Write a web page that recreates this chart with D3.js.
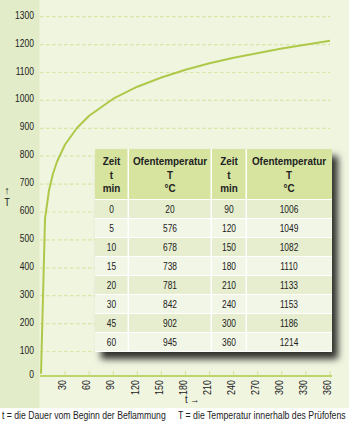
<!DOCTYPE html>
<html>
<head>
<meta charset="utf-8">
<script src="https://cdn.jsdelivr.net/npm/d3@7"></script>
<style>
  html, body { margin: 0; padding: 0; background: #ffffff; }
  svg { display: block; }
  text { font-family: 'Liberation Sans', Arial, sans-serif; fill: #222; }
</style>
</head>
<body>
<div id="chart"></div>
<script>
// ---- data ----
const times = [0, 5, 10, 15, 20, 30, 45, 60, 90, 120, 150, 180, 210, 240, 300, 360];
const temps = [20, 576, 678, 738, 781, 842, 902, 945, 1006, 1049, 1082, 1110, 1133, 1153, 1186, 1214];
const yTicks = [0, 100, 200, 300, 400, 500, 600, 700, 800, 900, 1000, 1100, 1200, 1300];
const xTicks = [30, 60, 90, 120, 150, 180, 210, 240, 270, 300, 330, 360];
const headerTime = ["Zeit", "t", "min"];
const headerTemp = ["Ofentemperatur", "T", "°C"];
const footLeft = "t = die Dauer vom Beginn der Beflammung";
const footRight = "T = die Temperatur innerhalb des Prüfofens";

// ---- layout ----
const W = 349, H = 426;
const svg = d3.select("#chart").append("svg").attr("width", W).attr("height", H);

const x = d3.scaleLinear().domain([0, 360]).range([41, 330]);
const y = d3.scaleLinear().domain([0, 1300]).range([379.4, 16.7]);
const axisY = 376;

// condensed text helper: places text at (px,py) with horizontal compression s
function ctext(parent, px, py, str, opts) {
  const o = Object.assign({ size: 10.5, s: 0.8, anchor: "start", weight: "normal", rot: 0, dy: null }, opts || {});
  const t = parent.append("text")
    .attr("transform", `translate(${px},${py})` + (o.rot ? ` rotate(${o.rot})` : "") + ` scale(${o.s},1)`)
    .attr("text-anchor", o.anchor).attr("font-size", o.size).attr("font-weight", o.weight)
    .text(str);
  if (o.dy) t.attr("dy", o.dy);
  return t;
}

// backgrounds
svg.append("rect").attr("x", 0).attr("y", 0).attr("width", W).attr("height", 408).attr("fill", "#f0f5e0");
svg.append("rect").attr("x", 0).attr("y", 0).attr("width", 39.5).attr("height", 408).attr("fill", "#e3ecc8");

// gridlines
svg.append("g").selectAll("line").data(yTicks.filter(d => d > 0)).join("line")
  .attr("x1", 40).attr("x2", 330)
  .attr("y1", d => y(d)).attr("y2", d => y(d))
  .attr("stroke", "#d8e5a4").attr("stroke-width", 1.2).attr("stroke-dasharray", "3.5,2.5");

// y tick labels
const gy = svg.append("g");
yTicks.forEach(d => ctext(gy, 34, Math.min(y(d), axisY) + 2, d, { anchor: "end", s: 0.81 }));

// x ticks
svg.append("g").selectAll("line").data(xTicks).join("line")
  .attr("x1", d => x(d)).attr("x2", d => x(d))
  .attr("y1", axisY - 5).attr("y2", axisY)
  .attr("stroke", "#d4e19a").attr("stroke-width", 1);

const gx = svg.append("g");
xTicks.forEach(d => ctext(gx, x(d) - 2.5, 380, d, { anchor: "end", rot: -90, s: 0.85, dy: "0.35em" }));

// axis line
svg.append("line").attr("x1", 40).attr("x2", 332).attr("y1", axisY).attr("y2", axisY)
  .attr("stroke", "#bcd56a").attr("stroke-width", 2);

// axis titles
ctext(svg, 7, 194, "↑", { anchor: "middle", size: 11, s: 1 });
ctext(svg, 7, 206, "T", { anchor: "middle", size: 11, s: 0.85 });
ctext(svg, 185, 403, "t →", { size: 11, s: 0.85 });

// curve
const line = d3.line().x((d, i) => x(times[i])).y(d => y(d)).curve(d3.curveLinear);
svg.append("path").datum(temps).attr("d", line)
  .attr("fill", "none").attr("stroke", "#aec94a").attr("stroke-width", 2)
  .attr("stroke-linejoin", "round");

// ---- table ----
const defs = svg.append("defs");
const f = defs.append("filter").attr("id", "shadow").attr("x", "-10%").attr("y", "-10%").attr("width", "130%").attr("height", "130%");
f.append("feDropShadow").attr("dx", 6).attr("dy", 7).attr("stdDeviation", 3.5)
  .attr("flood-color", "#000").attr("flood-opacity", 0.8);

const tx0 = 95, tx1 = 332, ty0 = 149, headH = 51, rowH = 19;
const colEdges = [95, 129, 212, 247, 332];
const nRows = 8;
const tableG = svg.append("g");
tableG.append("rect").attr("x", tx0).attr("y", ty0).attr("width", tx1 - tx0)
  .attr("height", headH + nRows * rowH).attr("fill", "#ffffff").attr("filter", "url(#shadow)");

// header cells
for (let c = 0; c < 4; c++) {
  tableG.append("rect").attr("x", colEdges[c]).attr("y", ty0)
    .attr("width", colEdges[c + 1] - colEdges[c] - (c < 3 ? 1.5 : 0)).attr("height", headH - 1)
    .attr("fill", "#d6e4a0");
  const lines = (c % 2 === 0) ? headerTime : headerTemp;
  const cx = (colEdges[c] + colEdges[c + 1]) / 2 - 0.5;
  lines.forEach((t, i) => {
    ctext(tableG, cx, ty0 + 16 + i * 13.5, t, { anchor: "middle", size: 11.5, weight: "bold", s: 0.86 });
  });
}
// body rows
const rowData = d3.range(nRows).map(r => [times[r], temps[r], times[r + nRows], temps[r + nRows]]);
rowData.forEach((row, r) => {
  const ry = ty0 + headH + r * rowH;
  for (let c = 0; c < 4; c++) {
    tableG.append("rect").attr("x", colEdges[c]).attr("y", ry)
      .attr("width", colEdges[c + 1] - colEdges[c] - (c < 3 ? 1.5 : 0)).attr("height", rowH - 1)
      .attr("fill", r % 2 === 0 ? "#e6eecf" : "#f2f6e6");
    ctext(tableG, (colEdges[c] + colEdges[c + 1]) / 2 - 0.5, ry + rowH / 2 + 3.5, row[c],
      { anchor: "middle", size: 10.5, s: 0.8 });
  }
});

// footnotes: fit to measured widths
function fitFoot(px, py, str, target) {
  const t = svg.append("text").attr("x", 0).attr("y", 0).attr("font-size", 10.5).text(str);
  const w = t.node().getComputedTextLength();
  t.attr("transform", `translate(${px},${py}) scale(${target / w},1)`);
}
fitFoot(2, 419, footLeft, 164);
fitFoot(178, 419, footRight, 168);
</script>
</body>
</html>
